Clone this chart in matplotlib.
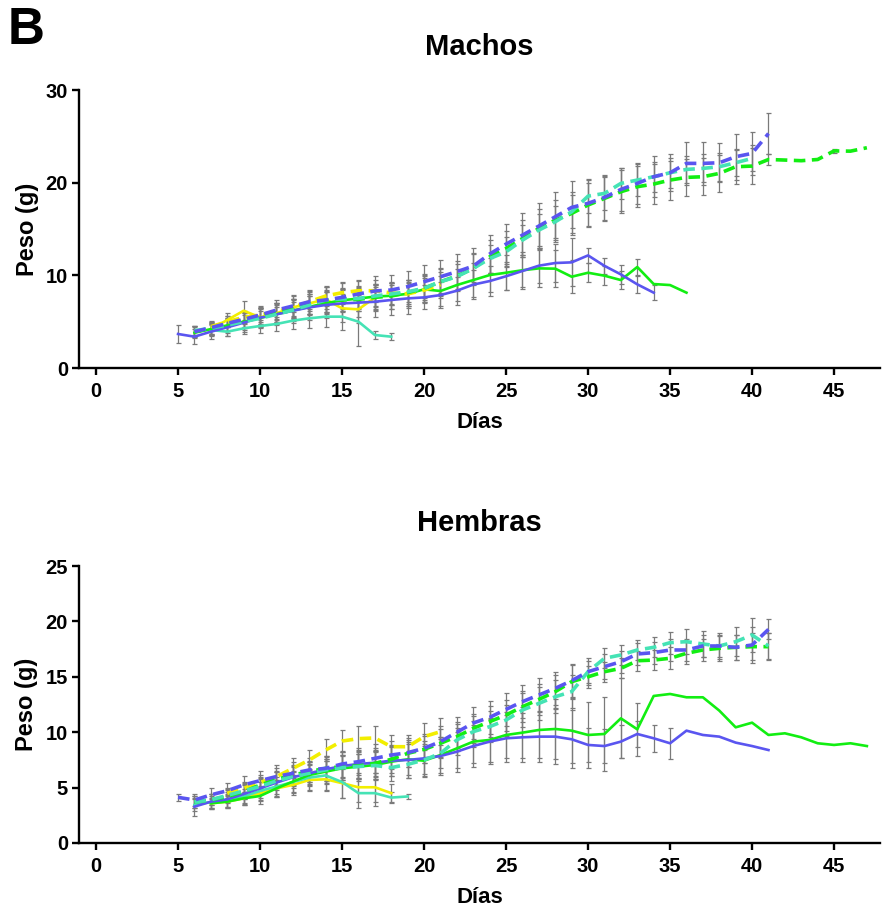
import numpy as np
import matplotlib
matplotlib.use("Agg")
import matplotlib.pyplot as plt

plt.rcParams['font.family'] = ['Liberation Sans', 'DejaVu Sans']

# ---------------- data: Machos ----------------
m_blue_solid_start = 5
m_blue_solid = [3.67, 3.38, 3.92, 4.39, 4.89, 5.43, 5.79, 6.18, 6.54, 6.80, 6.97, 7.05, 7.15, 7.34,
                7.51, 7.62, 7.87, 8.34, 9.0, 9.38, 9.9, 10.47, 11.04, 11.33, 11.4, 12.15, 11.02,
                10.1, 9.03, 8.13]
m_blue_solid_err = [1.0, 0.8, 0.8, 0.9, 1.0, 1.1, 1.2, 1.3, 1.4, 1.4, 1.5, 1.5, 1.6, 1.6, 1.7, 1.3,
                    1.4, 1.5, 1.6, 1.6, 1.5, 1.7, 1.9, 2.0, 2.6, 0.8, 0.9, 1.0, 0.9, 0.8]

m_blue_dash_start = 6
m_blue_dash = [3.92, 4.35, 4.82, 5.25, 5.72, 6.25, 6.69, 7.15, 7.34, 7.62, 7.99, 8.31, 8.42, 8.78,
               9.31, 9.85, 10.39, 11.0, 12.3, 13.37, 14.34, 15.32, 16.32, 17.33, 17.77, 18.41,
               19.27, 19.92, 20.64, 21.07, 22.08, 22.08, 22.15, 22.8, 23.16, 25.3]
m_blue_dash_err = [0.6, 0.7, 0.8, 0.9, 1.0, 1.1, 1.2, 1.3, 1.4, 1.5, 1.5, 1.6, 1.6, 1.7, 1.8, 1.8,
                   1.9, 2.0, 2.1, 2.2, 2.4, 2.5, 2.7, 2.8, 2.5, 2.4, 2.3, 2.2, 2.2, 2.0, 2.3, 2.3,
                   2.1, 2.5, 2.3, 2.2]

m_turq_dash_start = 6
m_turq_dash = [4.03, 4.28, 4.64, 5.0, 5.36, 5.79, 6.25, 6.8, 7.34, 7.45, 7.51, 7.77, 7.99, 8.23,
               8.6, 9.31, 9.85, 10.75, 11.8, 12.54, 13.8, 14.88, 15.78, 16.86, 18.55, 18.84,
               19.92, 20.28, 20.64, 21.07, 21.43, 21.54, 21.72, 22.15, 22.62]
m_turq_dash_err = [0.5, 0.6, 0.6, 0.7, 0.8, 0.8, 0.9, 1.0, 1.0, 1.1, 1.1, 1.2, 1.2, 1.3, 1.3, 1.4,
                   1.4, 1.5, 1.5, 1.6, 1.6, 1.7, 1.7, 1.8, 1.8, 1.8, 1.7, 1.7, 1.6, 1.6, 1.5, 1.5,
                   1.5, 1.4, 1.4]

m_green_dash_start = 6
m_green_dash = [3.9, 4.3, 4.7, 5.2, 5.6, 6.0, 6.4, 6.9, 7.27, 7.34, 7.41, 7.62, 7.77, 8.13, 8.6,
                9.31, 9.92, 10.75, 12.0, 12.9, 13.98, 15.06, 15.96, 16.68, 17.59, 18.3, 19.02,
                19.56, 19.85, 20.28, 20.57, 20.64, 21.0, 21.72, 21.79, 22.5, 22.44, 22.37, 22.5,
                23.43, 23.4, 23.77]
m_green_dash_err = [0.6, 0.7, 0.7, 0.8, 0.9, 1.0, 1.0, 1.1, 1.2, 1.2, 1.3, 1.3, 1.4, 1.4, 1.5, 1.5,
                    1.6, 1.7, 1.8, 1.9, 2.0, 2.1, 2.2, 2.3, 2.4, 2.4, 2.3, 2.2, 2.2, 2.1, 2.0, 2.0,
                    2.0, 1.9, 1.9, 0.6, 0.0, 0.0, 0.0, 0.2, 0.0, 0.0]

m_yellow_dash_start = 7
m_yellow_dash = [4.46, 5.0, 5.47, 5.72, 6.08, 6.54, 7.15, 7.77, 8.13, 8.34, 8.34, 8.1, 8.0, 8.4, 9.0]
m_yellow_dash_err = [0.5, 0.6, 0.7, 0.8, 0.8, 0.9, 1.0, 1.0, 1.1, 1.1, 1.2, 1.2, 1.3, 1.3, 1.4]

m_yellow_solid_start = 7
m_yellow_solid = [4.2, 5.18, 6.18, 5.47, 5.9, 6.54, 6.97, 7.41, 6.44, 6.33, 7.6]
m_yellow_solid_err = [0.6, 0.8, 1.0, 1.0, 1.1, 1.2, 1.3, 1.4, 1.5, 1.5, 1.5]

m_turq_solid_start = 7
m_turq_solid = [4.1, 3.92, 4.28, 4.53, 4.75, 5.11, 5.36, 5.54, 5.54, 5.0, 3.56, 3.38]
m_turq_solid_err = [0.5, 0.5, 0.6, 0.7, 0.8, 0.9, 1.0, 1.1, 1.4, 2.6, 0.4, 0.4]

m_green_solid_start = 6
m_green_solid = [3.8, 4.2, 4.6, 5.0, 5.4, 5.8, 6.2, 6.6, 7.0, 7.3, 7.5, 7.7, 7.8, 8.0, 8.49, 8.31,
                 8.95, 9.49, 10.03, 10.28, 10.55, 10.75, 10.72, 9.85, 10.28, 9.96, 9.49, 10.9,
                 9.06, 8.95, 8.13]
m_green_solid_err = [0.6, 0.7, 0.8, 0.9, 1.0, 1.0, 1.1, 1.2, 1.2, 1.3, 1.3, 1.4, 1.4, 1.5, 1.5,
                     1.6, 1.7, 1.8, 1.8, 1.9, 2.0, 2.0, 2.0, 1.8, 1.0, 1.0, 1.0, 0.9, 0.0, 0.0, 0.0]

# ---------------- data: Hembras ----------------
h_blue_dash_start = 5
h_blue_dash = [4.12, 3.88, 4.34, 4.72, 5.24, 5.63, 6.0, 6.29, 6.59, 6.74, 7.13, 7.34, 7.64, 7.94,
               8.15, 8.55, 9.15, 10.0, 10.83, 11.34, 12.06, 12.76, 13.36, 13.96, 14.65, 15.46,
               15.92, 16.36, 17.06, 17.18, 17.42, 17.42, 17.78, 17.78, 17.66, 17.87, 19.28]
h_blue_dash_err = [0.3, 0.5, 0.6, 0.7, 0.8, 0.9, 1.0, 1.0, 1.1, 1.1, 1.2, 1.2, 1.3, 1.3, 1.3, 1.3,
                   1.4, 1.4, 1.4, 1.5, 1.5, 1.5, 1.5, 1.5, 1.5, 1.2, 1.1, 1.0, 1.0, 1.0, 1.0, 1.0,
                   1.0, 1.0, 1.1, 1.6, 0.9]

h_turq_dash_start = 6
h_turq_dash = [3.7, 3.9, 4.3, 4.7, 5.1, 5.6, 6.0, 6.3, 6.6, 6.8, 6.9, 7.0, 6.8, 7.1, 7.49, 8.09,
               9.3, 10.05, 10.5, 11.1, 12.0, 12.6, 13.2, 13.66, 15.46, 16.67, 16.97, 17.42, 17.66,
               18.08, 18.17, 17.96, 17.78, 18.17, 18.77, 17.78]
h_turq_dash_err = [0.5, 0.5, 0.6, 0.7, 0.7, 0.8, 0.9, 1.0, 1.0, 1.1, 1.1, 1.2, 1.2, 1.2, 1.3, 1.3,
                   1.4, 1.4, 1.4, 1.4, 1.5, 1.5, 1.5, 1.5, 1.0, 0.9, 0.9, 0.9, 0.9, 1.0, 1.1, 1.2,
                   1.2, 1.3, 1.5, 1.2]

h_green_dash_start = 6
h_green_dash = [3.7, 3.9, 4.2, 4.63, 5.23, 5.74, 6.14, 6.44, 6.74, 6.89, 6.95, 7.19, 7.55, 8.09,
                8.45, 9.0, 9.6, 10.35, 10.95, 11.55, 12.3, 12.96, 13.66, 14.56, 15.0, 15.46,
                15.76, 16.45, 16.51, 16.67, 17.12, 17.42, 17.57, 17.66, 17.72, 17.72]
h_green_dash_err = [0.5, 0.5, 0.6, 0.7, 0.7, 0.8, 0.9, 0.9, 1.0, 1.0, 1.1, 1.1, 1.2, 1.2, 1.2,
                    1.3, 1.3, 1.3, 1.4, 1.4, 1.4, 1.4, 1.5, 1.5, 1.0, 0.9, 0.9, 0.9, 0.9, 1.0,
                    1.0, 1.0, 1.1, 1.1, 1.2, 1.2]

h_yellow_dash_start = 8
h_yellow_dash = [4.48, 4.94, 5.45, 5.99, 6.74, 7.49, 8.39, 9.2, 9.42, 9.48, 8.69, 8.69, 9.6, 10.05]
h_yellow_dash_err = [0.5, 0.6, 0.7, 0.8, 0.9, 0.9, 1.0, 1.0, 1.1, 1.1, 1.1, 1.1, 1.2, 1.2]

h_yellow_solid_start = 7
h_yellow_solid = [3.58, 3.73, 4.03, 4.48, 4.93, 5.24, 5.69, 5.75, 5.4, 5.03, 5.03, 4.5]
h_yellow_solid_err = [0.4, 0.5, 0.6, 0.7, 0.8, 0.9, 1.0, 1.1, 1.3, 1.3, 1.3, 0.8]

h_turq_solid_start = 6
h_turq_solid = [3.43, 3.7, 3.8, 4.2, 4.7, 5.1, 5.5, 5.9, 6.1, 5.5, 4.5, 4.5, 4.1, 4.2]
h_turq_solid_err = [0.5, 0.5, 0.6, 0.7, 0.8, 0.9, 1.0, 1.1, 1.3, 1.4, 1.3, 1.2, 0.5, 0.2]

h_blue_solid_start = 6
h_blue_solid = [3.28, 3.73, 3.94, 4.42, 4.93, 5.45, 5.93, 6.29, 6.65, 6.95, 7.13, 7.25, 7.43, 7.49,
                7.64, 7.85, 8.24, 8.75, 9.15, 9.45, 9.54, 9.6, 9.6, 9.36, 8.85, 8.75, 9.15, 9.84,
                9.45, 9.0, 10.14, 9.75, 9.6, 9.06, 8.75, 8.39]
h_blue_solid_err = [0.8, 0.7, 0.7, 0.8, 0.9, 1.0, 1.0, 1.1, 1.2, 1.3, 1.3, 1.3, 1.4, 1.6, 1.6,
                    1.7, 1.8, 1.9, 2.0, 2.1, 2.2, 2.3, 2.5, 2.6, 1.5, 1.5, 1.5, 1.2, 1.2, 1.4,
                    0.0, 0.0, 0.0, 0.0, 0.0, 0.0]

h_green_solid_start = 7
h_green_solid = [3.58, 3.73, 4.03, 4.24, 4.93, 5.54, 6.14, 6.44, 6.74, 6.89, 7.04, 7.34, 7.55,
                 7.43, 7.94, 8.54, 9.15, 9.3, 9.75, 9.96, 10.2, 10.29, 10.14, 9.75, 9.84, 11.25,
                 10.26, 13.27, 13.45, 13.15, 13.15, 11.95, 10.44, 10.86, 9.75, 9.9, 9.54, 9.0,
                 8.85, 9.0, 8.75]
h_green_solid_err = [0.5, 0.6, 0.6, 0.7, 0.8, 0.9, 1.0, 1.1, 1.2, 1.3, 1.3, 1.3, 1.4, 1.5, 1.6,
                     1.8, 1.9, 2.0, 2.1, 2.3, 2.5, 2.7, 2.9, 3.0, 3.3, 3.6, 2.4, 0, 0, 0, 0, 0,
                     0, 0, 0, 0, 0, 0, 0, 0, 0]

x_ticks = [0, 5, 10, 15, 20, 25, 30, 35, 40, 45]
m_y_ticks = [0, 10, 20, 30]
h_y_ticks = [0, 5, 10, 15, 20, 25]

# ---------------- styles ----------------
YELLOW = '#F2EE00'
GREEN = '#12EE12'
BLUE = '#5A55F0'
TURQ = '#45E3B5'
GRAY = '#7A7A7A'

m_series = [
    (m_yellow_solid_start, m_yellow_solid, m_yellow_solid_err, YELLOW, '-'),
    (m_turq_solid_start, m_turq_solid, m_turq_solid_err, TURQ, '-'),
    (m_green_solid_start, m_green_solid, m_green_solid_err, GREEN, '-'),
    (m_blue_solid_start, m_blue_solid, m_blue_solid_err, BLUE, '-'),
    (m_yellow_dash_start, m_yellow_dash, m_yellow_dash_err, YELLOW, '--'),
    (m_green_dash_start, m_green_dash, m_green_dash_err, GREEN, '--'),
    (m_turq_dash_start, m_turq_dash, m_turq_dash_err, TURQ, '--'),
    (m_blue_dash_start, m_blue_dash, m_blue_dash_err, BLUE, '--'),
]
h_series = [
    (h_yellow_solid_start, h_yellow_solid, h_yellow_solid_err, YELLOW, '-'),
    (h_turq_solid_start, h_turq_solid, h_turq_solid_err, TURQ, '-'),
    (h_green_solid_start, h_green_solid, h_green_solid_err, GREEN, '-'),
    (h_blue_solid_start, h_blue_solid, h_blue_solid_err, BLUE, '-'),
    (h_yellow_dash_start, h_yellow_dash, h_yellow_dash_err, YELLOW, '--'),
    (h_green_dash_start, h_green_dash, h_green_dash_err, GREEN, '--'),
    (h_turq_dash_start, h_turq_dash, h_turq_dash_err, TURQ, '--'),
    (h_blue_dash_start, h_blue_dash, h_blue_dash_err, BLUE, '--'),
]

W, H = 893, 911
fig = plt.figure(figsize=(W / 100, H / 100), dpi=100)

def px_axes(left, top, right, bottom):
    return fig.add_axes([left / W, 1 - bottom / H, (right - left) / W, (bottom - top) / H])

ax1 = px_axes(79, 90, 880, 368)
ax2 = px_axes(79, 566, 880, 843)

def draw(ax, series, yticks, ymax, title):
    for start, vals, errs, color, ls in series:
        x = np.arange(start, start + len(vals))
        e = np.array(errs, dtype=float)
        mask = e > 0
        ax.errorbar(x[mask], np.array(vals)[mask], yerr=e[mask], fmt='none', ecolor=GRAY,
                    elinewidth=0.9, capsize=1.8, capthick=0.9, zorder=2)
    for start, vals, errs, color, ls in series:
        x = np.arange(start, start + len(vals))
        if ls == '-':
            ax.plot(x, vals, color=color, lw=1.9, ls='-', zorder=3)
        else:
            ax.plot(x, vals, color=color, lw=2.6, ls=(0, (3.2, 1.8)), zorder=4)
    ax.set_xlim(-1.04, 47.8)
    ax.set_ylim(0, ymax)
    ax.set_xticks(x_ticks)
    ax.set_yticks(yticks)
    for s in ['top', 'right']:
        ax.spines[s].set_visible(False)
    for s in ['left', 'bottom']:
        ax.spines[s].set_linewidth(1.7)
    ax.tick_params(axis='both', which='major', direction='out', length=5, width=1.7,
                   labelsize=14.5, pad=3)
    ax.tick_params(axis='x', pad=5)
    for lab in ax.get_xticklabels() + ax.get_yticklabels():
        lab.set_fontweight('bold')
    ax.set_xlabel('Días', fontsize=16, fontweight='bold', labelpad=8)
    ax.set_ylabel('Peso (g)', fontsize=17, fontweight='bold', labelpad=5)
    ax.set_title(title, fontsize=21, fontweight='bold', pad=25)

draw(ax1, m_series, m_y_ticks, 30, 'Machos')
draw(ax2, h_series, h_y_ticks, 25, 'Hembras')

fig.text(8 / W, 1 - 6 / H, 'B', fontsize=37, fontweight='bold', ha='left', va='top')

fig.savefig('out.png', dpi=100)
